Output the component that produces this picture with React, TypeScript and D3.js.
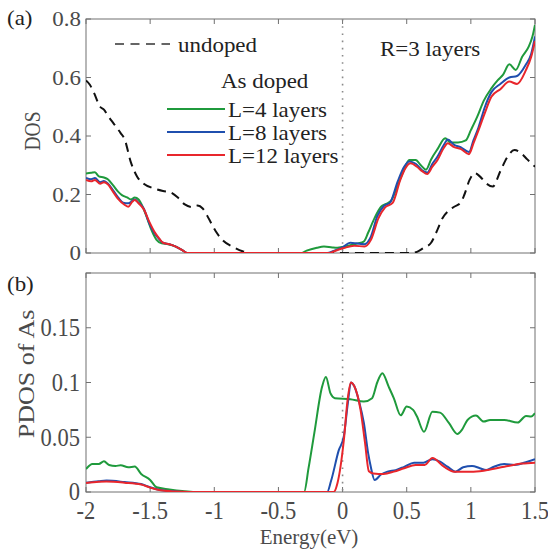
import React from "react";
import * as d3 from "d3";

// ---------- data ----------
const xTicks = [-2, -1.5, -1, -0.5, 0, 0.5, 1, 1.5];
const xTickLabels = ["-2", "-1.5", "-1", "-0.5", "0", "0.5", "1", "1.5"];
const dosTicks = [0, 0.2, 0.4, 0.6, 0.8];
const dosTickLabels = ["0", "0.2", "0.4", "0.6", "0.8"];
const pdosTicks = [0, 0.05, 0.1, 0.15, 0.2];
const pdosTickLabels = ["0", "0.05", "0.1", "0.15", ""];

const undopedDOS: [number, number][] = [
  [-2, 0.59], [-1.97, 0.575], [-1.94, 0.55], [-1.89, 0.5], [-1.86, 0.49], [-1.83, 0.47],
  [-1.78, 0.44], [-1.73, 0.41], [-1.7, 0.39], [-1.65, 0.31], [-1.6, 0.26], [-1.55, 0.237],
  [-1.48, 0.222], [-1.4, 0.212], [-1.34, 0.207], [-1.28, 0.188], [-1.23, 0.166], [-1.17, 0.157],
  [-1.13, 0.162], [-1.09, 0.152], [-1.04, 0.115], [-0.99, 0.075], [-0.93, 0.042], [-0.85, 0.02],
  [-0.78, 0.006], [-0.72, 0], [0.53, 0], [0.58, 0.004], [0.63, 0.017], [0.69, 0.035],
  [0.74, 0.08], [0.78, 0.12], [0.82, 0.142], [0.87, 0.158], [0.92, 0.172], [0.95, 0.2],
  [0.99, 0.25], [1.03, 0.273], [1.07, 0.262], [1.12, 0.238], [1.17, 0.227], [1.23, 0.28],
  [1.28, 0.325], [1.34, 0.352], [1.39, 0.342], [1.44, 0.32], [1.5, 0.295],
];

const dosL4: [number, number][] = [
  [-2, 0.272], [-1.96, 0.274], [-1.93, 0.276], [-1.9, 0.262], [-1.86, 0.258], [-1.83, 0.252],
  [-1.79, 0.232], [-1.75, 0.21], [-1.72, 0.198], [-1.68, 0.19], [-1.65, 0.183], [-1.62, 0.19],
  [-1.59, 0.183], [-1.56, 0.16], [-1.52, 0.115], [-1.49, 0.079], [-1.45, 0.045], [-1.41, 0.033],
  [-1.36, 0.03], [-1.3, 0.022], [-1.25, 0.01], [-1.21, 0], [-0.32, 0], [-0.28, 0.008],
  [-0.2, 0.018], [-0.145, 0.022], [-0.08, 0.019], [-0.04, 0.018], [0.02, 0.022], [0.06, 0.027],
  [0.12, 0.033], [0.165, 0.039], [0.2, 0.07], [0.25, 0.12], [0.3, 0.158], [0.34, 0.168],
  [0.38, 0.18], [0.42, 0.22], [0.47, 0.275], [0.52, 0.318], [0.57, 0.318], [0.61, 0.3],
  [0.65, 0.285], [0.69, 0.32], [0.74, 0.355], [0.8, 0.392], [0.84, 0.378], [0.9, 0.378],
  [0.96, 0.385], [1.0, 0.42], [1.05, 0.466], [1.1, 0.52], [1.16, 0.563], [1.21, 0.591],
  [1.25, 0.609], [1.3, 0.645], [1.35, 0.626], [1.4, 0.671], [1.45, 0.705], [1.48, 0.74], [1.5, 0.78],
];

const dosL8: [number, number][] = [
  [-2, 0.257], [-1.96, 0.252], [-1.93, 0.256], [-1.89, 0.242], [-1.86, 0.246], [-1.83, 0.238],
  [-1.79, 0.215], [-1.75, 0.19], [-1.71, 0.172], [-1.67, 0.17], [-1.64, 0.178], [-1.62, 0.183],
  [-1.59, 0.172], [-1.55, 0.152], [-1.51, 0.105], [-1.47, 0.07], [-1.43, 0.048], [-1.4, 0.035],
  [-1.35, 0.03], [-1.3, 0.022], [-1.25, 0.01], [-1.21, 0], [-0.12, 0], [-0.07, 0.007],
  [0.0, 0.02], [0.06, 0.035], [0.11, 0.033], [0.17, 0.03], [0.22, 0.055], [0.27, 0.125],
  [0.32, 0.16], [0.37, 0.172], [0.43, 0.245], [0.48, 0.295], [0.52, 0.313], [0.57, 0.305],
  [0.62, 0.283], [0.66, 0.275], [0.7, 0.305], [0.74, 0.33], [0.79, 0.37], [0.82, 0.388],
  [0.87, 0.37], [0.92, 0.362], [0.985, 0.345], [1.02, 0.385], [1.06, 0.43], [1.11, 0.5],
  [1.16, 0.55], [1.23, 0.578], [1.3, 0.6], [1.36, 0.605], [1.43, 0.645], [1.47, 0.68], [1.5, 0.74],
];

const dosL12: [number, number][] = [
  [-2, 0.25], [-1.96, 0.245], [-1.93, 0.25], [-1.89, 0.237], [-1.86, 0.242], [-1.83, 0.235],
  [-1.79, 0.21], [-1.75, 0.185], [-1.7, 0.165], [-1.67, 0.158], [-1.64, 0.175], [-1.62, 0.181],
  [-1.59, 0.17], [-1.55, 0.15], [-1.51, 0.11], [-1.46, 0.068], [-1.43, 0.05], [-1.4, 0.035],
  [-1.35, 0.03], [-1.3, 0.022], [-1.25, 0.01], [-1.21, 0], [-0.1, 0], [-0.07, 0.005],
  [0.01, 0.017], [0.09, 0.025], [0.17, 0.022], [0.22, 0.044], [0.28, 0.119], [0.33, 0.155],
  [0.39, 0.171], [0.45, 0.25], [0.49, 0.29], [0.53, 0.307], [0.58, 0.295], [0.62, 0.28],
  [0.66, 0.27], [0.7, 0.295], [0.74, 0.318], [0.79, 0.36], [0.82, 0.375], [0.87, 0.362],
  [0.92, 0.356], [0.985, 0.338], [1.02, 0.375], [1.06, 0.42], [1.11, 0.48], [1.16, 0.534],
  [1.23, 0.56], [1.3, 0.586], [1.36, 0.578], [1.43, 0.626], [1.47, 0.67], [1.5, 0.725],
];

const pdosL4: [number, number][] = [
  [-2, 0.021], [-1.95, 0.0256], [-1.9, 0.0256], [-1.86, 0.028], [-1.82, 0.0247], [-1.77, 0.0238],
  [-1.73, 0.0244], [-1.67, 0.0226], [-1.62, 0.0232], [-1.57, 0.0165], [-1.5, 0.011], [-1.45, 0.0043],
  [-1.35, 0.0024], [-1.25, 0.0009], [-1.15, 0], [-0.3, 0], [-0.265, 0.022], [-0.22, 0.054],
  [-0.16, 0.096], [-0.13, 0.105], [-0.094, 0.09], [-0.06, 0.0857], [0.06, 0.0847], [0.166, 0.0826],
  [0.23, 0.0857], [0.27, 0.1], [0.31, 0.1085], [0.36, 0.096], [0.4, 0.0856], [0.453, 0.07],
  [0.5, 0.078], [0.55, 0.075], [0.58, 0.0689], [0.635, 0.055], [0.7, 0.0734], [0.76, 0.0725],
  [0.83, 0.0628], [0.895, 0.053], [0.93, 0.0567], [0.974, 0.0658], [1.04, 0.0698], [1.1, 0.0643],
  [1.15, 0.0658], [1.26, 0.0658], [1.365, 0.0634], [1.43, 0.0695], [1.47, 0.0689], [1.5, 0.072],
];

const pdosL8: [number, number][] = [
  [-2, 0.0085], [-1.9, 0.0098], [-1.84, 0.0104], [-1.7, 0.0091], [-1.57, 0.0073], [-1.5, 0.0043],
  [-1.42, 0.0018], [-1.3, 0.0005], [-1.2, 0], [-0.12, 0], [-0.09, 0.01], [-0.03, 0.038],
  [0.01, 0.051], [0.04, 0.08], [0.065, 0.1], [0.09, 0.097], [0.13, 0.082], [0.166, 0.063],
  [0.2, 0.035], [0.22, 0.023], [0.25, 0.011], [0.3, 0.016], [0.35, 0.0186], [0.414, 0.02],
  [0.48, 0.023], [0.557, 0.0268], [0.63, 0.0268], [0.7, 0.03], [0.76, 0.0277], [0.818, 0.0231],
  [0.88, 0.0186], [0.94, 0.0226], [1.01, 0.0238], [1.07, 0.0217], [1.12, 0.02], [1.18, 0.0231],
  [1.26, 0.0256], [1.34, 0.0247], [1.44, 0.0277], [1.5, 0.03],
];

const pdosL12: [number, number][] = [
  [-2, 0.0082], [-1.9, 0.0093], [-1.84, 0.0095], [-1.7, 0.0085], [-1.57, 0.0068], [-1.5, 0.004],
  [-1.42, 0.0015], [-1.3, 0.0004], [-1.2, 0], [-0.07, 0], [-0.04, 0.008], [0.01, 0.0475],
  [0.04, 0.085], [0.065, 0.1], [0.09, 0.097], [0.14, 0.075], [0.175, 0.045], [0.205, 0.019],
  [0.24, 0.017], [0.32, 0.0165], [0.4, 0.0186], [0.48, 0.0217], [0.57, 0.0247], [0.64, 0.0247],
  [0.7, 0.031], [0.79, 0.0231], [0.87, 0.0186], [1.0, 0.0186], [1.1, 0.0195], [1.26, 0.0231],
  [1.4, 0.026], [1.5, 0.0268],
];

const GREEN = "#1f9a3c";
const BLUE = "#1f4fae";
const RED = "#e8262c";
const GRAY_TXT = "#4a4a4a";
const FONT = "Liberation Serif, Times New Roman, serif";

// ---------- layout ----------
const X0 = 86, X1 = 535;
const TOP = { y0: 19, y1: 253 };
const BOT = { y0: 273, y1: 492 };

function T(props: {
  x: number; y: number; size: number; sx?: number; anchor?: string; rot?: number;
  fill?: string; children: React.ReactNode;
}) {
  const { x, y, size, sx = 1, anchor = "start", rot = 0, fill = "#222", children } = props;
  return (
    <text
      transform={`translate(${x},${y}) scale(${sx},1)${rot ? ` rotate(${rot})` : ""}`}
      fontSize={size}
      fontFamily={FONT}
      textAnchor={anchor as any}
      fill={fill}
    >
      {children}
    </text>
  );
}

export default function App() {
  const x = d3.scaleLinear().domain([-2, 1.5]).range([X0, X1]);
  const yTop = d3.scaleLinear().domain([0, 0.8]).range([TOP.y1, TOP.y0]);
  const yBot = d3.scaleLinear().domain([0, 0.2]).range([BOT.y1, BOT.y0]);

  const lineTop = d3.line<[number, number]>().x(d => x(d[0])).y(d => yTop(d[1])).curve(d3.curveMonotoneX);
  const lineBot = d3.line<[number, number]>().x(d => x(d[0])).y(d => yBot(d[1])).curve(d3.curveMonotoneX);

  const TL = 5;
  const boxStroke = "#707070";

  const frame = (y0: number, y1: number, yTicks: number[], ys: (v: number) => number) => (
    <g>
      <rect x={X0} y={y0} width={X1 - X0} height={y1 - y0} fill="none" stroke={boxStroke} strokeWidth={1} />
      {xTicks.map(t => (
        <g key={"xt" + t}>
          <line x1={x(t)} x2={x(t)} y1={y1} y2={y1 - TL} stroke={boxStroke} />
          <line x1={x(t)} x2={x(t)} y1={y0} y2={y0 + TL} stroke={boxStroke} />
        </g>
      ))}
      {yTicks.map(t => (
        <g key={"yt" + t}>
          <line x1={X0} x2={X0 + TL} y1={ys(t)} y2={ys(t)} stroke={boxStroke} />
          <line x1={X1} x2={X1 - TL} y1={ys(t)} y2={ys(t)} stroke={boxStroke} />
        </g>
      ))}
      <line x1={x(0)} x2={x(0)} y1={y0} y2={y1} stroke="#8a8a8a" strokeWidth={1.6} strokeDasharray="1.6,5.6" />
    </g>
  );

  const topSize = 20.5, topSx = 1.12;
  const botSize = 24.5, botSx = 0.92;

  return (
    <svg width={548} height={558} style={{ position: "absolute", left: 0, top: 0, background: "#fff" }}>
      <defs>
        <clipPath id="clipTop"><rect x={X0} y={TOP.y0 - 2} width={X1 - X0} height={TOP.y1 - TOP.y0 + 2} /></clipPath>
        <clipPath id="clipBot"><rect x={X0} y={BOT.y0} width={X1 - X0} height={BOT.y1 - BOT.y0} /></clipPath>
      </defs>
      <rect x={0} y={0} width={548} height={558} fill="#fff" />

      {/* ---- panel (a) ---- */}
      {frame(TOP.y0, TOP.y1, dosTicks, yTop)}
      <g clipPath="url(#clipTop)" fill="none" strokeWidth={2} strokeLinejoin="round">
        <path d={lineTop(undopedDOS) || ""} stroke="#111" strokeDasharray="9,6" />
        <path d={lineTop(dosL4) || ""} stroke={GREEN} />
        <path d={lineTop(dosL8) || ""} stroke={BLUE} />
        <path d={lineTop(dosL12) || ""} stroke={RED} />
      </g>
      {dosTicks.map((t, i) => (
        <T key={"dl" + t} x={81} y={yTop(t) + 7} size={topSize} sx={topSx} anchor="end" fill={GRAY_TXT}>
          {dosTickLabels[i]}
        </T>
      ))}
      <T x={40} y={131} size={19.5} sx={1.16} rot={-90} anchor="middle" fill={GRAY_TXT}>DOS</T>
      <T x={7} y={25} size={topSize} sx={topSx}>(a)</T>

      {/* legend */}
      <line x1={115} x2={170} y1={44} y2={44} stroke="#333" strokeWidth={1.5} strokeDasharray="9,6.5" />
      <T x={178} y={52} size={topSize} sx={topSx}>undoped</T>
      <T x={221} y={88} size={topSize} sx={topSx}>As doped</T>
      <line x1={167} x2={225} y1={109} y2={109} stroke={GREEN} strokeWidth={2} />
      <T x={228} y={117} size={topSize} sx={topSx}>L=4 layers</T>
      <line x1={167} x2={225} y1={132} y2={132} stroke={BLUE} strokeWidth={2} />
      <T x={228} y={140} size={topSize} sx={topSx}>L=8 layers</T>
      <line x1={167} x2={225} y1={155} y2={155} stroke={RED} strokeWidth={2} />
      <T x={228} y={163} size={topSize} sx={topSx}>L=12 layers</T>
      <T x={380} y={56} size={topSize} sx={topSx}>R=3 layers</T>

      {/* ---- panel (b) ---- */}
      {frame(BOT.y0, BOT.y1, pdosTicks, yBot)}
      <g clipPath="url(#clipBot)" fill="none" strokeWidth={2} strokeLinejoin="round">
        <path d={lineBot(pdosL4) || ""} stroke={GREEN} />
        <path d={lineBot(pdosL8) || ""} stroke={BLUE} />
        <path d={lineBot(pdosL12) || ""} stroke={RED} />
      </g>
      {pdosTicks.map((t, i) => (
        <T key={"pl" + t} x={80} y={yBot(t) + 8.3} size={botSize} sx={botSx} anchor="end" fill={GRAY_TXT}>
          {pdosTickLabels[i]}
        </T>
      ))}
      {xTicks.map((t, i) => (
        <T key={"xl" + t} x={x(t)} y={519} size={botSize} sx={botSx} anchor="middle" fill={GRAY_TXT}>
          {xTickLabels[i]}
        </T>
      ))}
      <T x={34} y={374} size={26} sx={0.87} rot={-90} anchor="middle" fill={GRAY_TXT}>PDOS of As</T>
      <T x={309} y={544} size={21} sx={1} anchor="middle" fill={GRAY_TXT}>Energy(eV)</T>
      <T x={7} y={291} size={topSize} sx={topSx}>(b)</T>
    </svg>
  );
}
